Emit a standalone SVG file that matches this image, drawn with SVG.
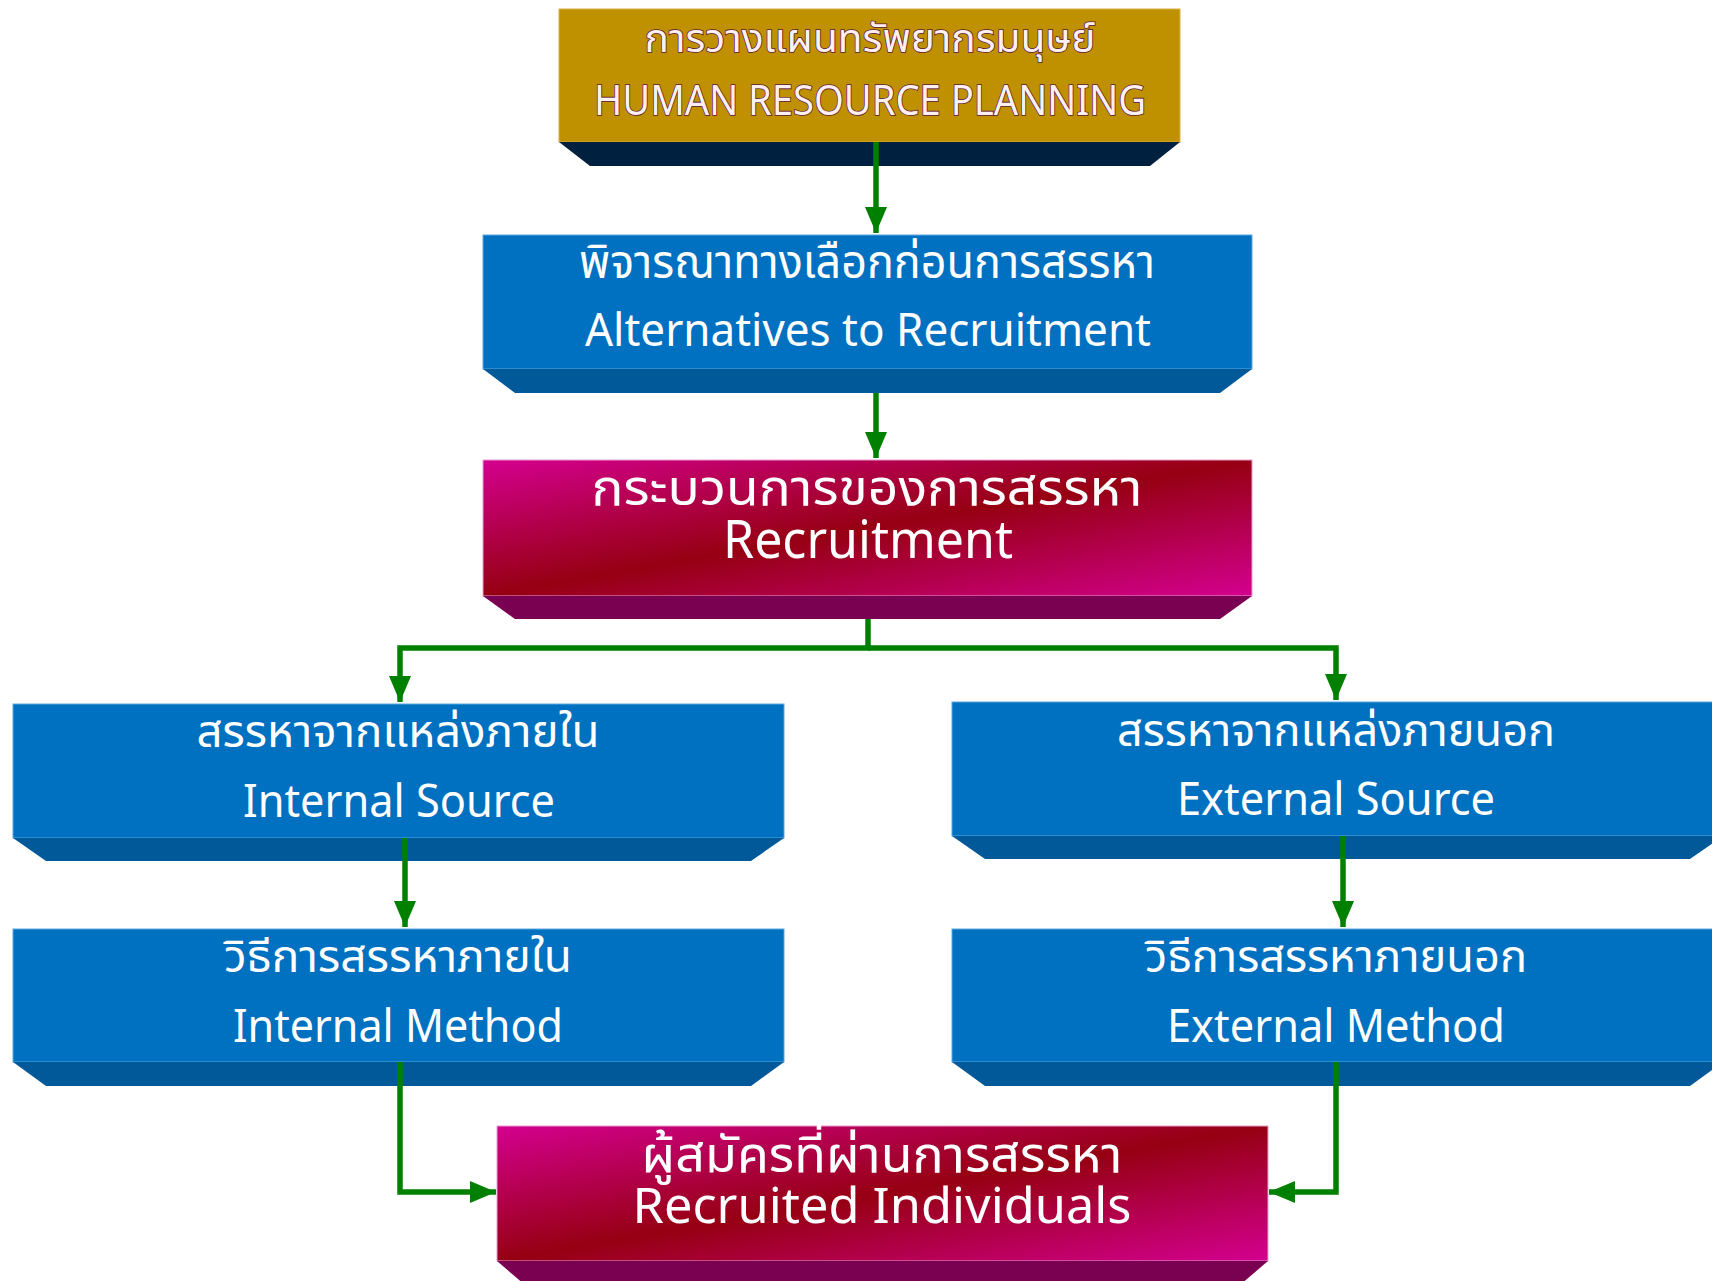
<svg xmlns="http://www.w3.org/2000/svg" width="1712" height="1281" viewBox="0 0 1712 1281">
<style>
.face-gold{fill:#BF9000;stroke:#D8B040;stroke-width:1}
.bev-gold{fill:#002040}
.face-blue{fill:#0070C0;stroke:#5AA8E0;stroke-width:1}
.bev-blue{fill:#02599A}
.face-mag{fill:url(#gMag);stroke:#E6A0D0;stroke-width:1}
.bev-mag{fill:#7A0052}
.t{font-family:"Noto Sans Thai","Leelawadee UI","Noto Sans",sans-serif;fill:#FFFFFF;text-anchor:middle}
.outline{fill:#FFF0F0;stroke:#5A1A3A;stroke-width:1.6;paint-order:stroke}
.conn{fill:none;stroke:#008000;stroke-width:5.5;stroke-linejoin:miter}
</style>
<defs>
<linearGradient id="gMag" x1="0" y1="0" x2="1" y2="1">
<stop offset="0" stop-color="#D4008F"/>
<stop offset="0.5" stop-color="#960012"/>
<stop offset="1" stop-color="#D4008F"/>
</linearGradient>
<marker id="arr" markerUnits="userSpaceOnUse" markerWidth="28" markerHeight="28" viewBox="0 0 28 28" refX="26" refY="14" orient="auto">
<path d="M0,3 L26,14 L0,25 Z" fill="#008000"/>
</marker>
</defs>

<g id="n1">
<rect class="face-gold" x="559" y="9" width="621" height="133"/>
<polygon class="bev-gold" points="559,142 1180,142 1150,166 590,166"/>
<text class="t outline" x="870" y="52" font-size="40" textLength="451" lengthAdjust="spacingAndGlyphs">การวางแผนทรัพยากรมนุษย์</text>
<text class="t outline" x="870" y="115" font-size="41" textLength="552" lengthAdjust="spacingAndGlyphs">HUMAN RESOURCE PLANNING</text>
</g>

<g id="n2">
<rect class="face-blue" x="483" y="235" width="769" height="134"/>
<polygon class="bev-blue" points="483,369 1252,369 1220,393 515,393"/>
<text class="t" x="867" y="278" font-size="46" textLength="576" lengthAdjust="spacingAndGlyphs">พิจารณาทางเลือกก่อนการสรรหา</text>
<text class="t" x="868" y="346" font-size="45" textLength="566" lengthAdjust="spacingAndGlyphs">Alternatives to Recruitment</text>
</g>

<g id="n3">
<rect class="face-mag" x="483" y="460" width="769" height="136"/>
<polygon class="bev-mag" points="483,596 1252,596 1220,619 515,619"/>
<text class="t" x="867" y="505" font-size="50" textLength="551" lengthAdjust="spacingAndGlyphs">กระบวนการของการสรรหา</text>
<text class="t" x="868" y="558" font-size="52" textLength="290" lengthAdjust="spacingAndGlyphs">Recruitment</text>
</g>

<g id="n4">
<rect class="face-blue" x="13" y="704" width="771" height="134"/>
<polygon class="bev-blue" points="13,838 784,838 751,861 46,861"/>
<text class="t" x="398" y="747" font-size="45" textLength="403" lengthAdjust="spacingAndGlyphs">สรรหาจากแหล่งภายใน</text>
<text class="t" x="399" y="817" font-size="45" textLength="312" lengthAdjust="spacingAndGlyphs">Internal Source</text>
</g>

<g id="n5">
<rect class="face-blue" x="952" y="702" width="771" height="134"/>
<polygon class="bev-blue" points="952,836 1723,836 1690,859 985,859"/>
<text class="t" x="1336" y="746" font-size="45" textLength="438" lengthAdjust="spacingAndGlyphs">สรรหาจากแหล่งภายนอก</text>
<text class="t" x="1336" y="815" font-size="45" textLength="318" lengthAdjust="spacingAndGlyphs">External Source</text>
</g>

<g id="n6">
<rect class="face-blue" x="13" y="929" width="771" height="133"/>
<polygon class="bev-blue" points="13,1062 784,1062 751,1086 46,1086"/>
<text class="t" x="398" y="972" font-size="45" textLength="348" lengthAdjust="spacingAndGlyphs">วิธีการสรรหาภายใน</text>
<text class="t" x="398" y="1042" font-size="45" textLength="330" lengthAdjust="spacingAndGlyphs">Internal Method</text>
</g>

<g id="n7">
<rect class="face-blue" x="952" y="929" width="771" height="133"/>
<polygon class="bev-blue" points="952,1062 1723,1062 1690,1086 985,1086"/>
<text class="t" x="1336" y="972" font-size="45" textLength="382" lengthAdjust="spacingAndGlyphs">วิธีการสรรหาภายนอก</text>
<text class="t" x="1336" y="1042" font-size="45" textLength="338" lengthAdjust="spacingAndGlyphs">External Method</text>
</g>

<g id="n8">
<rect class="face-mag" x="497" y="1126" width="771" height="135"/>
<polygon class="bev-mag" points="497,1261 1268,1261 1240,1285 525,1285"/>
<text class="t" x="882" y="1172" font-size="50" textLength="481" lengthAdjust="spacingAndGlyphs">ผู้สมัครที่ผ่านการสรรหา</text>
<text class="t" x="882" y="1223" font-size="50" textLength="499" lengthAdjust="spacingAndGlyphs">Recruited Individuals</text>
</g>

<g id="connectors">
<path class="conn" d="M876,142 V233" marker-end="url(#arr)"/>
<path class="conn" d="M876,393 V458" marker-end="url(#arr)"/>
<path class="conn" d="M868,619 V648 H400 V702" marker-end="url(#arr)"/>
<path class="conn" d="M868,648 H1336 V700" marker-end="url(#arr)"/>
<path class="conn" d="M405,838 V927" marker-end="url(#arr)"/>
<path class="conn" d="M1343,836 V927" marker-end="url(#arr)"/>
<path class="conn" d="M400,1062 V1192 H496" marker-end="url(#arr)"/>
<path class="conn" d="M1336,1062 V1192 H1269" marker-end="url(#arr)"/>
</g>
</svg>
